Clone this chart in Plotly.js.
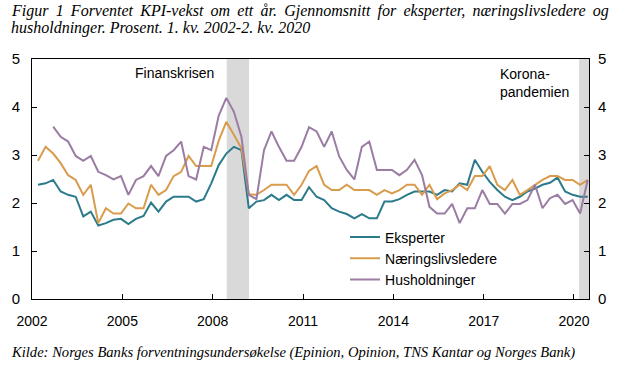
<!DOCTYPE html>
<html>
<head>
<meta charset="utf-8">
<script src="https://cdn.plot.ly/plotly-3.0.1.min.js"></script>
<style>
html,body{margin:0;padding:0;background:#fff;}
#chart{width:621px;height:367px;}
</style>
</head>
<body>
<div id="chart"></div>
<script>
// Quarterly survey, 1. kv. 2002 - 2. kv. 2020
var startYear = 2002;
var nQuarters = 74;
var quarterDay = ['03-15', '06-15', '09-15', '12-15'];

var eksperter = [
  2.38, 2.41, 2.48, 2.24, 2.17, 2.13, 1.72, 1.82, 1.53, 1.58,
  1.65, 1.67, 1.56, 1.67, 1.73, 2.01, 1.82, 2.03, 2.13, 2.13,
  2.13, 2.03, 2.08, 2.41, 2.79, 3.03, 3.17, 3.10, 1.89, 2.03,
  2.06, 2.17, 2.06, 2.17, 2.06, 2.06, 2.33, 2.13, 2.06, 1.89,
  1.82, 1.77, 1.68, 1.77, 1.68, 1.68, 2.03, 2.03, 2.08, 2.17,
  2.24, 2.24, 2.24, 2.17, 2.27, 2.24, 2.41, 2.38, 2.90, 2.65,
  2.44, 2.27, 2.13, 2.06, 2.13, 2.24, 2.30, 2.38, 2.42, 2.53,
  2.24, 2.17, 2.13, 2.13
];
var naeringsliv = [
  2.88, 3.17, 3.03, 2.83, 2.58, 2.48, 2.17, 2.38, 1.58, 1.89,
  1.78, 1.78, 1.99, 1.89, 1.89, 2.38, 2.17, 2.27, 2.56, 2.65,
  2.98, 2.77, 2.77, 2.77, 3.30, 3.69, 3.42, 3.14, 2.18, 2.17,
  2.27, 2.38, 2.38, 2.38, 2.17, 2.38, 2.67, 2.77, 2.38, 2.27,
  2.27, 2.38, 2.27, 2.27, 2.27, 2.17, 2.27, 2.20, 2.27, 2.38,
  2.38, 2.17, 2.38, 2.08, 2.20, 2.27, 2.38, 2.27, 2.56, 2.56,
  2.77, 2.38, 2.27, 2.48, 2.17, 2.27, 2.38, 2.48, 2.56, 2.56,
  2.48, 2.48, 2.38, 2.48
];
var husholdninger = [
  null, null, 3.59, 3.38, 3.28, 2.98, 2.88, 2.98, 2.65, 2.58,
  2.49, 2.56, 2.17, 2.48, 2.56, 2.77, 2.56, 2.98, 3.10, 3.28,
  2.56, 2.49, 3.17, 3.10, 3.82, 4.19, 3.90, 3.38, 2.17, 2.08,
  3.10, 3.49, 3.17, 2.88, 2.88, 3.17, 3.58, 3.49, 3.17, 3.49,
  2.97, 2.69, 2.49, 3.17, 3.28, 2.69, 2.69, 2.69, 2.58, 2.69,
  2.90, 2.58, 1.92, 1.78, 1.78, 1.98, 1.58, 1.89, 1.89, 2.27,
  1.98, 1.98, 1.78, 1.98, 1.98, 2.06, 2.38, 1.89, 2.10, 2.17,
  1.98, 2.06, 1.78, 2.48
];
var tickYears = [2002, 2005, 2008, 2011, 2014, 2017, 2020];
var yTicks = [0, 1, 2, 3, 4, 5];
var seriesNames = ['Eksperter', 'Næringslivsledere', 'Husholdninger'];
var colors = ['#2c7b8b', '#d99b4c', '#9b7ca3'];

var dates = [];
for (var i = 0; i < nQuarters; i++) {
  var yr = startYear + Math.floor(i / 4);
  dates.push(yr + '-' + quarterDay[i % 4]);
}

var font = 'Arial, "Liberation Sans", sans-serif';
var serif = '"Liberation Serif", "DejaVu Serif", serif';

function line(y, k) {
  return {
    x: dates, y: y, name: seriesNames[k], type: 'scatter', mode: 'lines',
    line: {color: colors[k], width: 2}, connectgaps: false, hoverinfo: 'x+y'
  };
}
var traces = [line(eksperter, 0), line(naeringsliv, 1), line(husholdninger, 2),
  {x: [], y: [], yaxis: 'y2', showlegend: false, hoverinfo: 'skip', mode: 'lines'}];

// justified first title line: widen word gaps with thin spaces
var title1 = 'Figur 1 Forventet KPI-vekst om ett år. Gjennomsnitt for eksperter, næringslivsledere og'
  .split(' ').join(' \u2009');

var layout = {
  width: 621, height: 367,
  margin: {l: 32, r: 32, t: 59, b: 68},
  paper_bgcolor: '#fff', plot_bgcolor: '#fff',
  font: {family: font, size: 14, color: '#000'},
  showlegend: true,
  legend: {x: 0.562, y: 0.323, xanchor: 'left', yanchor: 'top',
    bgcolor: 'rgba(0,0,0,0)', font: {family: font, size: 14, color: '#000'},
    tracegroupgap: 0},
  xaxis: {
    type: 'date', range: ['2002-01-01', '2020-07-01'],
    tickvals: tickYears.map(function (y) { return y + '-01-01'; }),
    ticktext: tickYears.map(String),
    ticks: 'inside', ticklen: 5, tickcolor: '#000', tickwidth: 1,
    showgrid: false, zeroline: false, showline: true, linecolor: '#000', linewidth: 1,
    mirror: true, ticklabelstandoff: 9,
    tickfont: {family: font, size: 14, color: '#000'}
  },
  yaxis: {
    range: [0, 5], tickvals: yTicks, ticks: 'inside', ticklen: 5, tickcolor: '#000',
    showgrid: false, zeroline: false, showline: true, linecolor: '#000', linewidth: 1,
    mirror: true, ticklabelstandoff: 8,
    tickfont: {family: font, size: 15, color: '#000'}
  },
  yaxis2: {
    range: [0, 5], tickvals: yTicks, overlaying: 'y', side: 'right', matches: 'y',
    ticks: 'inside', ticklen: 5, tickcolor: '#000', showgrid: false, zeroline: false,
    showline: false, ticklabelstandoff: 8,
    tickfont: {family: font, size: 15, color: '#000'}
  },
  shapes: [
    {type: 'rect', xref: 'x', yref: 'paper', x0: '2008-06-20', x1: '2009-03-17', y0: 0, y1: 1,
      fillcolor: '#d9d9d9', line: {width: 0}, layer: 'below'},
    {type: 'rect', xref: 'x', yref: 'paper', x0: '2020-03-03', x1: '2020-07-01', y0: 0, y1: 1,
      fillcolor: '#d9d9d9', line: {width: 0}, layer: 'below'}
  ],
  annotations: [
    {text: title1,
      xref: 'paper', yref: 'paper', x: -0.0415, y: 1.2, xanchor: 'left', yanchor: 'middle',
      showarrow: false, font: {family: serif, size: 16, color: '#000', style: 'italic'}},
    {text: 'husholdninger. Prosent. 1. kv. 2002-2. kv. 2020',
      xref: 'paper', yref: 'paper', x: -0.0415, y: 1.128, xanchor: 'left', yanchor: 'middle',
      showarrow: false, font: {family: serif, size: 16, color: '#000', style: 'italic'}},
    {text: 'Kilde: Norges Banks forventningsundersøkelse (Epinion, Opinion, TNS Kantar og Norges Bank)',
      xref: 'paper', yref: 'paper', x: -0.0415, y: -0.222, xanchor: 'left', yanchor: 'middle',
      showarrow: false, font: {family: serif, size: 14.6, color: '#000', style: 'italic'}},
    {text: 'Finanskrisen', xref: 'paper', yref: 'paper', x: 0.255, y: 0.942,
      xanchor: 'center', yanchor: 'middle', showarrow: false,
      font: {family: font, size: 14, color: '#000'}},
    {text: 'Korona-<br>pandemien', xref: 'paper', yref: 'paper', x: 0.8366, y: 0.898,
      xanchor: 'left', yanchor: 'middle', align: 'left', showarrow: false,
      font: {family: font, size: 14, color: '#000'}}
  ]
};

Plotly.newPlot('chart', traces, layout, {displayModeBar: false, staticPlot: true});
</script>
</body>
</html>
